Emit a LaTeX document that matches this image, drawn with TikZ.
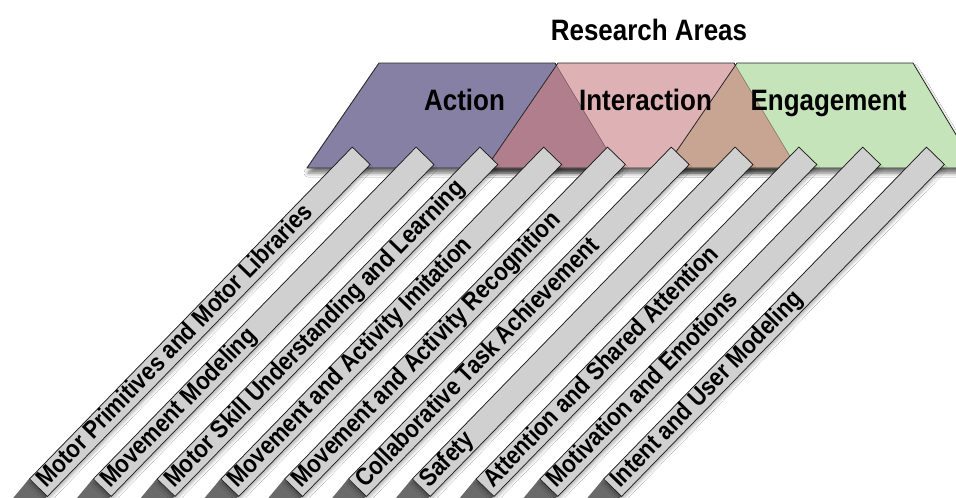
\documentclass[tikz,border=0pt]{standalone}
\usepackage{fontspec}
\setmainfont{Liberation Sans}
\newfontfamily\condfont[FakeStretch=0.88]{Liberation Sans}
\usetikzlibrary{calc,shadows.blur}
\definecolor{actc}{HTML}{8780A5}
\definecolor{intc}{HTML}{DEB2B5}
\definecolor{aic}{HTML}{B07E8C}
\definecolor{engc}{HTML}{C6E4B9}
\definecolor{iec}{HTML}{C8A592}
\definecolor{barc}{HTML}{D0D0D0}
\definecolor{darkc}{HTML}{6A6A6A}
\begin{document}
\begin{tikzpicture}[x=1pt,y=-1pt,
  pA/.style={insert path={(379,63) -- (555,63) -- (618,168) -- (307,168) -- cycle}},
  pI/.style={insert path={(558,63) -- (734,63) -- (797,168) -- (486,168) -- cycle}},
  pE/.style={insert path={(737,63) -- (913,63) -- (976,168) -- (665,168) -- cycle}},
  edgeline/.style={draw=black!85, line width=0.8pt, line join=round},
  innerline/.style={draw=black, line width=0.6pt, draw opacity=0.35},
  areashadow/.style={blur shadow={shadow xshift=1pt, shadow yshift=-5pt, shadow blur radius=4pt, shadow opacity=55}},
  head/.style={font=\condfont\bfseries\fontsize{29.5}{32}\selectfont, inner sep=0pt, anchor=base},
  bar/.style={draw=black!90, line width=0.7pt, fill=barc, rotate=45.8, anchor=north west,
    minimum width=463pt, minimum height=25pt, inner ysep=0pt, inner xsep=5pt,
    text width=453pt, align=flush left, text height=17.5pt, text depth=5pt,
    font=\condfont\bfseries\fontsize{25}{27}\selectfont,
    blur shadow={shadow xshift=0pt, shadow yshift=-4pt, shadow blur radius=3pt, shadow opacity=30}},
  foot/.style={fill=darkc}
]
\useasboundingbox (0,0) rectangle (956,498);
\clip (0,0) rectangle (956,498);
\fill[white] (0,0) rectangle (956,498);
% shadows of the areas
\fill[white, areashadow, pA];
\fill[white, areashadow, pI];
\fill[white, areashadow, pE];
% Action
\fill[actc, pA];
\draw[edgeline, pA];
% Interaction
\fill[intc, pI];
\begin{scope}
  \clip[pA];
  \fill[aic, pI];
\end{scope}
\draw[innerline] (555,63) -- (618,168);
\draw[edgeline, pI];
% Engagement
\fill[engc, pE];
\begin{scope}
  \clip[pI];
  \fill[iec, pE];
\end{scope}
\draw[innerline] (734,63) -- (797,168);
\draw[edgeline, pE];
% headings
\node[head] (rA) at (649,40) {Research Areas};
\node[head] (hA) at (464.5,110) {Action};
\node[head] (hI) at (645.5,110) {Interaction};
\node[head] (hE) at (828.5,110) {Engagement};
% bars
\foreach \i/\t in {1/Motor Primitives and Motor Libraries,
                   2/Movement Modeling,
                   3/Motor Skill Understanding and Learning,
                   4/Movement and Activity Imitation,
                   5/Movement and Activity Recognition,
                   6/Collaborative Task Achievement,
                   7/Safety,
                   8/Attention and Shared Attention,
                   9/Motivation and Emotions,
                   10/Intent and User Modeling}{
  \pgfmathsetmacro\bx{29+63.8*(\i-1)}
  \coordinate (c\i) at (\bx,479);
  \fill[foot] (c\i) -- ++(-20,24) -- ++(17,14.9) -- ++(20.9,-21.5) -- cycle;
  \node[bar] (b\i) at (c\i) {\t};
}
\end{tikzpicture}
\end{document}
